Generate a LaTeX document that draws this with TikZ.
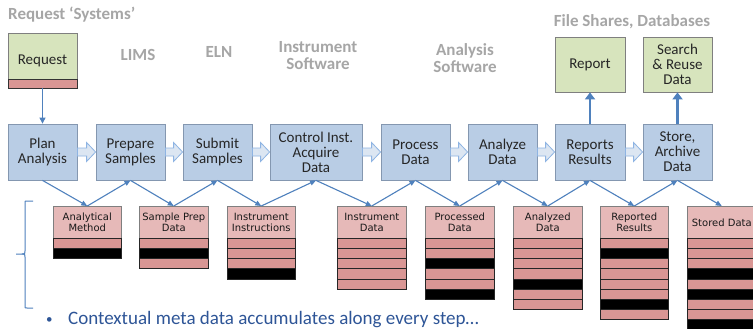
\documentclass[tikz,border=0pt]{standalone}
\usepackage{fontspec}
\setmainfont{Carlito}
\newfontfamily\cardfont{DejaVu Sans}
\usetikzlibrary{arrows.meta}
\definecolor{procfill}{HTML}{B9CDE5}
\definecolor{procdraw}{HTML}{8497B0}
\definecolor{greenfill}{HTML}{D7E4BD}
\definecolor{boxgray}{HTML}{7F7F7F}
\definecolor{stripred}{HTML}{D99694}
\definecolor{cardhead}{HTML}{E6B9B8}
\definecolor{arrowblue}{HTML}{4F81BD}
\definecolor{labelgray}{HTML}{A6A6A6}
\definecolor{blkarrfill}{HTML}{DCE6F2}
\definecolor{blkarrdraw}{HTML}{8EB4E3}
\definecolor{bullettext}{HTML}{2E5597}
\newcommand\myrows[3]{\foreach \c [count=\k from 0] in {#3} {\draw[draw=black!85, line width=0.6pt, fill=\c] (#1,238+\k*10.2) rectangle ++(#2,10.2);}}
\newcommand\blkarrow[2]{\draw[blk] ([yshift=4pt]#1.east) -- ([xshift=-9pt,yshift=4pt]#2.west) -- ([xshift=-9pt,yshift=9.5pt]#2.west) -- (#2.west) -- ([xshift=-9pt,yshift=-9.5pt]#2.west) -- ([xshift=-9pt,yshift=-4pt]#2.west) -- ([yshift=-4pt]#1.east) -- cycle;}
\begin{document}
\begin{tikzpicture}[x=1pt,y=-1pt,
 proc/.style={draw=procdraw, fill=procfill, line width=0.8pt, minimum height=56pt, inner sep=0pt, align=center, font=\fontsize{15}{15}\selectfont, text=black!85},
 greenbox/.style={draw=boxgray, fill=greenfill, line width=0.8pt, inner sep=0pt, align=center, font=\fontsize{15}{15}\selectfont, text=black!85},
 strip/.style={draw=black!80, fill=stripred, line width=0.8pt, inner sep=0pt},
 cardhd/.style={draw=boxgray, fill=cardhead, line width=0.6pt, minimum height=32pt, inner sep=0pt, anchor=north west, align=center, font=\cardfont\fontsize{10}{10.5}\selectfont, text=black!90},
 glabel/.style={text=labelgray, font=\bfseries\fontsize{17}{17}\selectfont, align=center, inner sep=0pt},
 blk/.style={draw=blkarrdraw, fill=blkarrfill, line width=0.8pt},
 zz/.style={draw=arrowblue, line width=1.1pt, -{Triangle[length=6pt,width=5pt]}},
 thick arr/.style={draw=arrowblue, line width=2.6pt, -{Triangle[length=7pt,width=10pt]}},
]
\clip (0,0) rectangle (753,329);
\fill[white] (0,0) rectangle (753,329);
% top labels
\node[glabel, anchor=west] (l1) at (8,15) {Request ‘Systems’};
\node[glabel] (l2) at (138,55) {LIMS};
\node[glabel] (l3) at (219,52) {ELN};
\node[glabel] (l4) at (318,56) {Instrument\\Software};
\node[glabel] (l5) at (465,58) {Analysis\\Software};
\node[glabel] (l6) at (632,22) {File Shares, Databases};
% request / report / search boxes
\node[greenbox, minimum width=69pt, minimum height=55pt] (req) at (42.5,60.5) {Request};
\node[strip, minimum width=69pt, minimum height=9pt, anchor=south] (reqstrip) at (req.south) {};
\node[greenbox, minimum width=70pt, minimum height=55pt] (rep) at (590,64.5) {Report};
\node[greenbox, minimum width=69pt, minimum height=55pt] (srch) at (677.5,64.5) {Search\\\& Reuse\\Data};
% process boxes
\node[proc, minimum width=69pt] (p1) at (42.5,152) {Plan\\Analysis};
\node[proc, minimum width=69pt] (p2) at (130.5,152) {Prepare\\Samples};
\node[proc, minimum width=69pt] (p3) at (217.5,152) {Submit\\Samples};
\node[proc, minimum width=92pt] (p4) at (316,152) {Control Inst.\\Acquire\\Data};
\node[proc, minimum width=69pt] (p5) at (415.5,152) {Process\\Data};
\node[proc, minimum width=69pt] (p6) at (502.5,152) {Analyze\\Data};
\node[proc, minimum width=70pt] (p7) at (590,152) {Reports\\Results};
\node[proc, minimum width=69pt] (p8) at (677.5,152) {Store,\\Archive\\Data};
\blkarrow{p1}{p2}
\blkarrow{p2}{p3}
\blkarrow{p3}{p4}
\blkarrow{p4}{p5}
\blkarrow{p5}{p6}
\blkarrow{p6}{p7}
\blkarrow{p7}{p8}
% vertical arrows
\draw[draw=arrowblue, line width=1pt, -{Triangle[length=6pt,width=6pt]}] (reqstrip.south) -- (p1.north);
\draw[thick arr] (p7.north) -- (rep.south);
\draw[thick arr] (p8.north) -- (srch.south);
% cards
\node[cardhd, minimum width=68pt] (c1) at (53,206) {Analytical\\Method};
\node[cardhd, minimum width=69pt] (c2) at (139,206) {Sample Prep\\Data};
\node[cardhd, minimum width=68pt] (c3) at (227,206) {Instrument\\Instructions};
\node[cardhd, minimum width=69pt] (c4) at (337,206) {Instrument\\Data};
\node[cardhd, minimum width=69pt] (c5) at (425,206) {Processed\\Data};
\node[cardhd, minimum width=69pt] (c6) at (513,206) {Analyzed\\Data};
\node[cardhd, minimum width=68pt] (c7) at (600,206) {Reported\\Results};
\node[cardhd, minimum width=69pt] (c8) at (687,206) {Stored Data};
\myrows{53}{68}{stripred,black}
\myrows{139}{69}{stripred,black,stripred}
\myrows{227}{68}{stripred,stripred,stripred,black}
\myrows{337}{69}{stripred,stripred,stripred,stripred,stripred}
\myrows{425}{69}{stripred,stripred,black,stripred,stripred,black}
\myrows{513}{69}{stripred,stripred,stripred,stripred,black,stripred,stripred}
\myrows{600}{68}{stripred,black,stripred,stripred,stripred,stripred,black,stripred}
\myrows{687}{69}{stripred,stripred,stripred,black,stripred,black,stripred,stripred,black}
% zigzag arrows
\draw[zz] (p1.south) -- (c1.north);
\draw[zz] (c1.north) -- (p2.south);
\draw[zz] (p2.south) -- (c2.north);
\draw[zz] (c2.north) -- (p3.south);
\draw[zz] (p3.south) -- (c3.north);
\draw[zz] (c3.north) -- (p4.south);
\draw[zz] (p4.south) -- (c4.north);
\draw[zz] (c4.north) -- (p5.south);
\draw[zz] (p5.south) -- (c5.north);
\draw[zz] (c5.north) -- (p6.south);
\draw[zz] (p6.south) -- (c6.north);
\draw[zz] (c6.north) -- (p7.south);
\draw[zz] (p7.south) -- (c7.north);
\draw[zz] (c7.north) -- (p8.south);
\draw[zz] (p8.south) -- (c8.north);
% brace
\draw[arrowblue, line width=1pt] (33,201) -- (27,201) .. controls (25,201) .. (25,203) -- (25,251) .. controls (25,254) .. (22,254) -- (16,254);
\draw[arrowblue, line width=1pt] (22,254) .. controls (25,254) .. (25,257) -- (25,306) .. controls (25,308) .. (27,308) -- (33,308);
% bullet text
\node[anchor=base west, inner sep=0pt, text=bullettext, font=\fontsize{13}{15}\selectfont] (bul) at (46,323) {•};
\node[anchor=base west, inner sep=0pt, text=bullettext, font=\fontsize{19}{22}\selectfont] (note) at (68,324) {Contextual meta data accumulates along every step…};
\end{tikzpicture}
\end{document}
